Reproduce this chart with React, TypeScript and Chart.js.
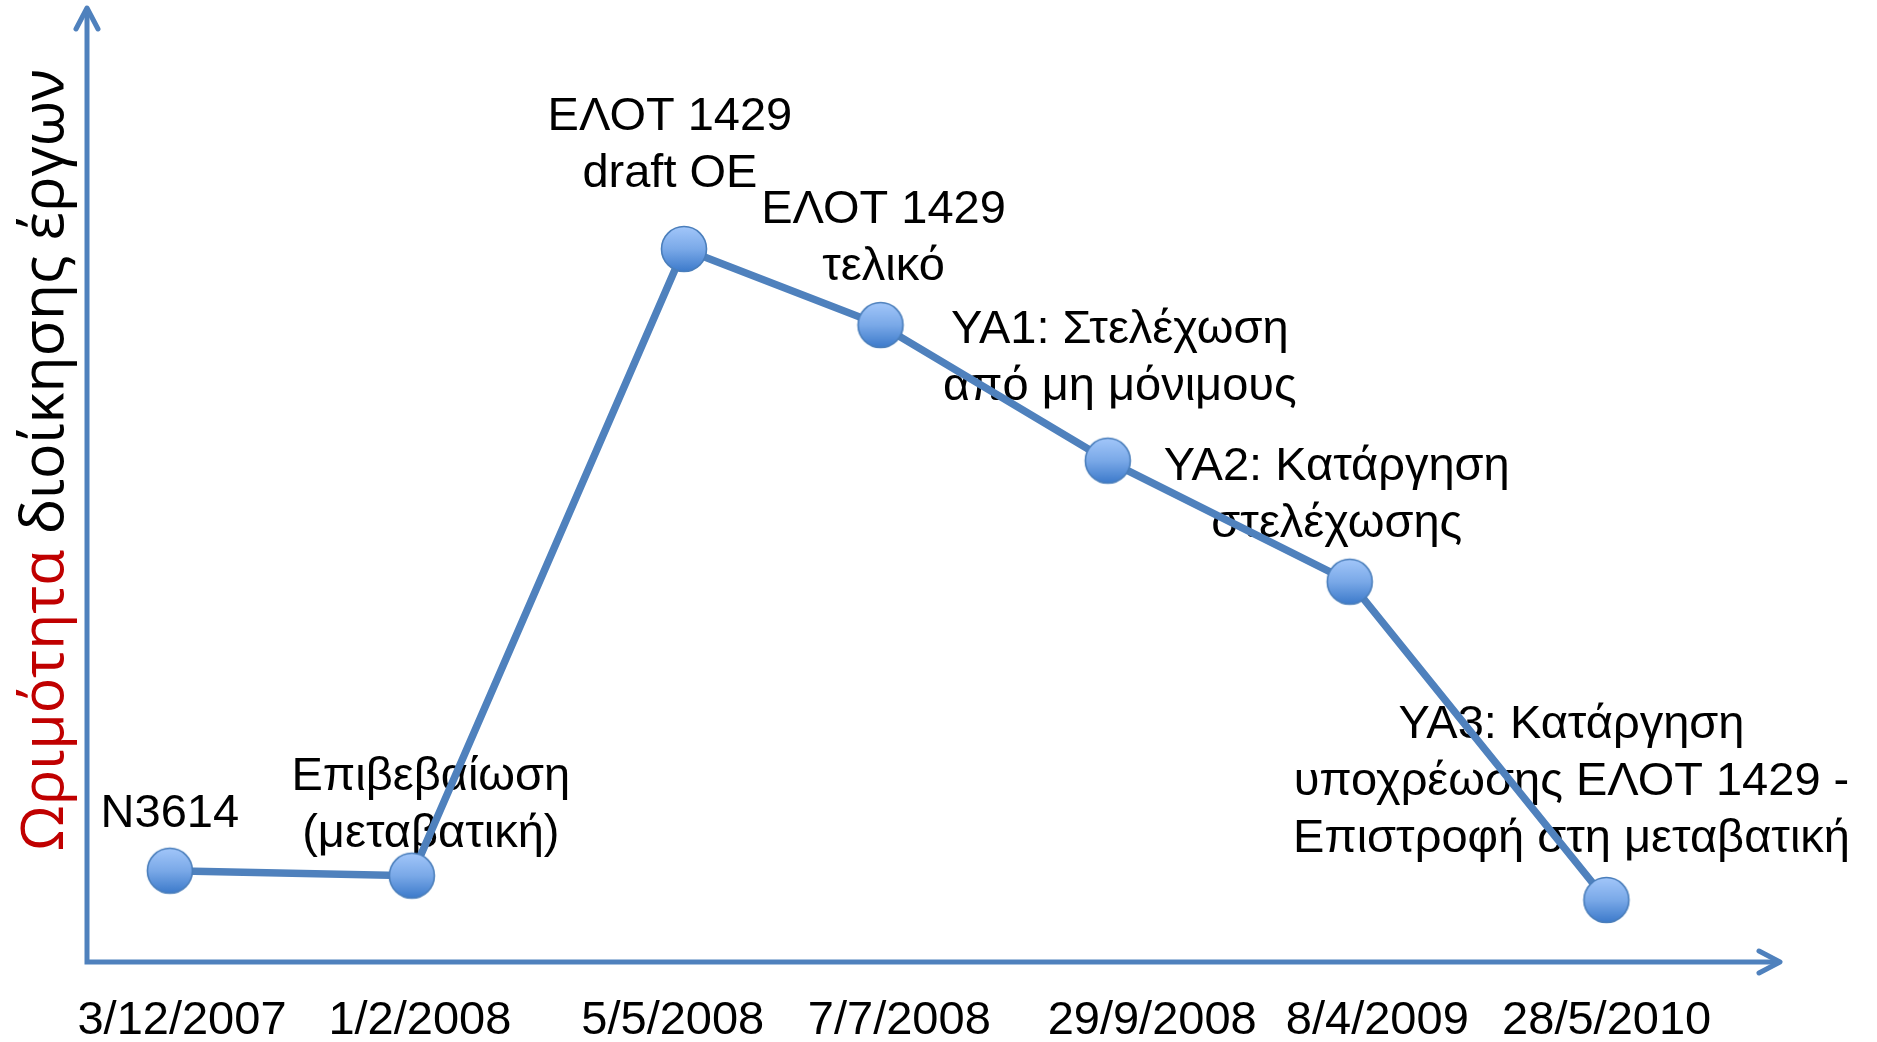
import React, { useEffect, useRef } from "react";
import { Chart, registerables } from "chart.js";

Chart.register(...registerables);

// ---- data ----
const TICK_LABELS = ["3/12/2007", "1/2/2008", "5/5/2008", "7/7/2008", "29/9/2008", "8/4/2009", "28/5/2010"];
const TICK_POSITIONS = [0, 1.002, 2.067, 3.021, 4.086, 5.034, 6];
const POINT_X = [-0.051, 0.968, 2.114, 2.942, 3.899, 4.918, 5.999];
const MATURITY = [0.957, 0.905, 7.474, 6.677, 5.255, 3.986, 0.65];
const EVENT_LABELS = [
  ["N3614"],
  ["Επιβεβαίωση", "(μεταβατική)"],
  ["ΕΛΟΤ 1429", "draft ΟΕ"],
  ["ΕΛΟΤ 1429", "τελικό"],
  ["ΥΑ1: Στελέχωση", "από μη μόνιμους"],
  ["ΥΑ2: Κατάργηση", "στελέχωσης"],
  ["ΥΑ3: Κατάργηση", "υποχρέωσης ΕΛΟΤ 1429 -", "Επιστροφή στη μεταβατική"],
];
const Y_TITLE_RED = "Ωριμότητα";
const Y_TITLE_BLACK = " διοίκησης έργων";

// ---- layout / style ----
const LABEL_OFFSETS = [
  [0, -44],
  [19, -29],
  [-14, -62],
  [3, -45],
  [12, -61],
  [-13, -45],
  [-35, -48],
];
const LINE_COLOR = "#4F81BD";
const AXIS_COLOR = "#4F81BD";
const TEXT_FONT = '"Liberation Sans", Arial, sans-serif';
const TITLE_FONT = '"Open Sans", "Noto Sans", sans-serif';

function makeBall(): HTMLCanvasElement {
  const c = document.createElement("canvas");
  c.width = 52;
  c.height = 52;
  const g = c.getContext("2d")!;
  const grad = g.createLinearGradient(0, 3, 0, 49);
  grad.addColorStop(0, "#A3C7FA");
  grad.addColorStop(0.5, "#7AA9E8");
  grad.addColorStop(1, "#3B79CA");
  g.beginPath();
  g.arc(26, 26, 22.5, 0, Math.PI * 2);
  g.fillStyle = grad;
  g.fill();
  g.lineWidth = 1.6;
  g.strokeStyle = "#4A7EBB";
  g.stroke();
  return c;
}

const overlayPlugin = {
  id: "overlay",
  beforeDatasetsDraw(chart: any) {
    const { ctx, chartArea } = chart;
    const { left, right, top, bottom } = chartArea;
    ctx.save();
    // axes
    ctx.strokeStyle = AXIS_COLOR;
    ctx.lineWidth = 5;
    ctx.lineJoin = "miter";
    ctx.lineCap = "butt";
    ctx.beginPath();
    ctx.moveTo(left, top + 2);
    ctx.lineTo(left, bottom);
    ctx.lineTo(right - 2, bottom);
    ctx.stroke();
    ctx.lineCap = "round";
    ctx.lineJoin = "round";
    ctx.beginPath();
    ctx.moveTo(left - 11, top + 21);
    ctx.lineTo(left, top);
    ctx.lineTo(left + 11, top + 21);
    ctx.stroke();
    ctx.beginPath();
    ctx.moveTo(right - 21, bottom - 11);
    ctx.lineTo(right, bottom);
    ctx.lineTo(right - 21, bottom + 11);
    ctx.stroke();

    // event labels
    const meta = chart.getDatasetMeta(0);
    ctx.font = `47px ${TEXT_FONT}`;
    ctx.fillStyle = "#000";
    ctx.textAlign = "center";
    ctx.textBaseline = "alphabetic";
    meta.data.forEach((pt: any, i: number) => {
      const lines = EVENT_LABELS[i];
      const [dx, dy] = LABEL_OFFSETS[i];
      lines.forEach((line, j) => {
        ctx.fillText(line, pt.x + dx, pt.y + dy - (lines.length - 1 - j) * 57);
      });
    });

    // y title (two colours)
    ctx.font = `59px ${TITLE_FONT}`;
    const wRed = ctx.measureText(Y_TITLE_RED).width;
    const wBlack = ctx.measureText(Y_TITLE_BLACK).width;
    const total = wRed + wBlack;
    ctx.translate(63, (top + bottom) / 2 - 25);
    ctx.rotate(-Math.PI / 2);
    ctx.textAlign = "left";
    ctx.fillStyle = "#C00000";
    ctx.fillText(Y_TITLE_RED, -total / 2, 0);
    ctx.fillStyle = "#000";
    ctx.fillText(Y_TITLE_BLACK, -total / 2 + wRed, 0);
    ctx.restore();
  },
};

export default function App() {
  const ref = useRef<HTMLCanvasElement>(null);
  useEffect(() => {
    document.body.style.margin = "0";
    const ball = makeBall();
    const chart = new Chart(ref.current!, {
      type: "line",
      data: {
        datasets: [
          {
            data: POINT_X.map((x, i) => ({ x, y: MATURITY[i] })),
            borderColor: LINE_COLOR,
            borderWidth: 7.5,
            tension: 0,
            fill: false,
            clip: false,
            pointStyle: ball as any,
            pointRadius: 23,
            pointHoverRadius: 23,
          },
        ],
      },
      options: {
        responsive: false,
        animation: false,
        events: [],
        layout: { autoPadding: false, padding: { left: 87, right: 97, top: 8, bottom: 0 } },
        plugins: {
          legend: { display: false },
          tooltip: { enabled: false },
          title: { display: false },
        },
        scales: {
          x: {
            type: "linear",
            min: -0.4,
            max: 6.73,
            grid: { display: false, drawTicks: false },
            border: { display: false },
            afterBuildTicks: (s: any) => {
              s.ticks = TICK_POSITIONS.map((v) => ({ value: v }));
            },
            afterFit: (s: any) => {
              s.height = 80;
            },
            ticks: {
              autoSkip: false,
              maxRotation: 0,
              minRotation: 0,
              padding: 38,
              color: "#000",
              font: { family: TEXT_FONT, size: 47, lineHeight: 0.9 },
              callback: (_v: any, i: number) => TICK_LABELS[i],
            },
          },
          y: { type: "linear", min: 0, max: 10, display: false },
        },
      },
      plugins: [overlayPlugin],
    } as any);
    return () => chart.destroy();
  }, []);
  return <canvas ref={ref} width={1877} height={1042} style={{ display: "block" }} />;
}
